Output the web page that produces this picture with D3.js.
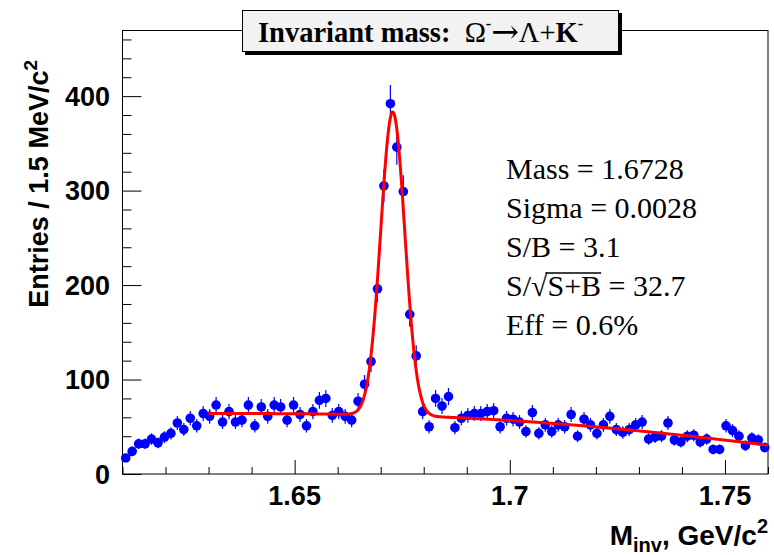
<!DOCTYPE html>
<html><head><meta charset="utf-8">
<script src="https://cdn.jsdelivr.net/npm/d3@7"></script>
<style>body{margin:0;background:#fff}svg{display:block}</style>
</head><body>
<svg id="chart" width="774" height="555"></svg>
<script>
// ---- data ----
const binStart = 1.61;
const binWidth = 0.0015;
const counts = [
  17, 24, 32, 32, 37, 33, 39, 43, 54, 47,
  59, 51, 64, 61, 73, 55, 66, 55, 57, 73,
  51, 71, 61, 73, 71, 57, 73, 63, 51, 66,
  78, 80, 62, 66, 61, 57, 77, 95, 119, 196,
  305, 392, 346, 299, 169, 125, 66, 50, 80, 72,
  82, 49, 59, 62, 64, 64, 66, 67, 50, 59,
  58, 55, 45, 65, 43, 52, 45, 52, 50, 63,
  40, 58, 52, 43, 52, 61, 47, 44, 47, 52,
  55, 37, 39, 40, 54, 36, 34, 40, 41, 34,
  37, 26, 26, 51, 46, 40, 30, 38, 36, 28
];
const xDomain = [1.61, 1.76];
const yDomain = [0, 470];
const xMajorTicks = [1.65, 1.70, 1.75];
const xMajorLabels = ["1.65", "1.7", "1.75"];
const xMinorTicks = [1.61,1.62,1.63,1.64,1.66,1.67,1.68,1.69,1.71,1.72,1.73,1.74,1.76];
const yMajorTicks = [0, 100, 200, 300, 400];
const yMajorLabels = ["0", "100", "200", "300", "400"];
const yMinorTicks = [20,40,60,80,120,140,160,180,220,240,260,280,320,340,360,380,420,440,460];
// fit: gaussian (amplitude, mean, sigma) + polynomial background in t=(x-1.63)/0.01
const fitRange = [1.63, 1.76];
const gausPar = [321, 1.6728, 0.0028];
const bkgPar = [64, 0, 0, -0.02868, 0.001033];
const statLabels = ["Mass = 1.6728", "Sigma = 0.0028", "S/B = 3.1", "S/\u221AS+B = 32.7", "Eff = 0.6%"];

// ---- layout ----
const L = 122.5, R = 768, T = 30, B = 474;
const svg = d3.select("#chart");
const x = d3.scaleLinear().domain(xDomain).range([L, R]);
const y = d3.scaleLinear().domain(yDomain).range([B, T]);

const sans = "'Liberation Sans', Arial, Helvetica, sans-serif";
const serif = "'Liberation Serif', 'Times New Roman', serif";

// frame
svg.append("rect").attr("x", L).attr("y", T + 0.5).attr("width", R - L).attr("height", B - T - 0.5)
  .attr("fill", "none").attr("stroke", "#000").attr("stroke-width", 1);

// x axis
const xAxisMajor = d3.axisBottom(x).tickValues(xMajorTicks).tickSize(-14).tickFormat("");
const xAxisMinor = d3.axisBottom(x).tickValues(xMinorTicks).tickSize(-7).tickFormat("");
[xAxisMinor, xAxisMajor].forEach(ax => {
  const g = svg.append("g").attr("transform", `translate(0,${B})`).call(ax);
  g.select(".domain").remove();
  g.selectAll("line").attr("stroke", "#000");
});
svg.append("g").selectAll("text").data(xMajorTicks).join("text")
  .attr("x", d => x(d)).attr("y", 505).attr("text-anchor", "middle")
  .attr("font-family", sans).attr("font-weight", "bold").attr("font-size", 27)
  .text((d, i) => xMajorLabels[i]);

// y axis
const yAxisMajor = d3.axisLeft(y).tickValues(yMajorTicks).tickSize(-19).tickFormat("");
const yAxisMinor = d3.axisLeft(y).tickValues(yMinorTicks).tickSize(-9).tickFormat("");
[yAxisMinor, yAxisMajor].forEach(ax => {
  const g = svg.append("g").attr("transform", `translate(${L},0)`).call(ax);
  g.select(".domain").remove();
  g.selectAll("line").attr("stroke", "#000");
});
svg.append("g").selectAll("text").data(yMajorTicks).join("text")
  .attr("x", 110).attr("y", d => y(d)).attr("dy", "0.36em").attr("text-anchor", "end")
  .attr("font-family", sans).attr("font-weight", "bold").attr("font-size", 27)
  .text((d, i) => yMajorLabels[i]);

// axis titles
const xt = svg.append("text").attr("x", R).attr("y", 545).attr("text-anchor", "end")
  .attr("font-family", sans).attr("font-weight", "bold").attr("font-size", 28);
xt.append("tspan").text("M");
xt.append("tspan").attr("font-size", 20).attr("dy", 7).text("inv");
xt.append("tspan").attr("dy", -7).text(", GeV/c");
xt.append("tspan").attr("font-size", 20).attr("dy", -12).text("2");

const yt = svg.append("text").attr("transform", "translate(48,60) rotate(-90)").attr("text-anchor", "end")
  .attr("font-family", sans).attr("font-weight", "bold").attr("font-size", 27);
yt.append("tspan").text("Entries / 1.5 MeV/c");
yt.append("tspan").attr("font-size", 19).attr("dy", -11).text("2");

// data points
const pts = counts.map((c, i) => ({ lo: binStart + i * binWidth, c }));
const gp = svg.append("g");
gp.selectAll("line.ey").data(pts).join("line").attr("class", "ey")
  .attr("x1", d => x(d.lo + binWidth / 2)).attr("x2", d => x(d.lo + binWidth / 2))
  .attr("y1", d => y(d.c + Math.sqrt(d.c))).attr("y2", d => y(Math.max(0, d.c - Math.sqrt(d.c))))
  .attr("stroke", "#0000ff").attr("stroke-width", 1.2);
gp.selectAll("line.ex").data(pts).join("line").attr("class", "ex")
  .attr("x1", d => x(d.lo) - 1).attr("x2", d => x(d.lo + binWidth) + 1)
  .attr("y1", d => y(d.c)).attr("y2", d => y(d.c))
  .attr("stroke", "#0000ff").attr("stroke-width", 1.2);
gp.selectAll("circle").data(pts).join("circle")
  .attr("cx", d => x(d.lo + binWidth / 2)).attr("cy", d => y(d.c)).attr("r", 4.8)
  .attr("fill", "#0000ff");

// fit curve
function fitFn(v) {
  const t = (v - 1.63) / 0.01;
  let b = 0;
  bkgPar.forEach((p, k) => { b += p * Math.pow(t, k); });
  const g = gausPar[0] * Math.exp(-0.5 * Math.pow((v - gausPar[1]) / gausPar[2], 2));
  return g + b;
}
const fitPts = d3.range(fitRange[0], fitRange[1] + 1e-9, 0.0001).map(v => [v, fitFn(v)]);
svg.append("path").datum(fitPts)
  .attr("d", d3.line().x(d => x(d[0])).y(d => y(d[1])))
  .attr("fill", "none").attr("stroke", "#ff0000").attr("stroke-width", 3);

// title box
svg.append("rect").attr("x", 245).attr("y", 13).attr("width", 377).attr("height", 42).attr("fill", "#000");
svg.append("rect").attr("x", 242.5).attr("y", 10.5).attr("width", 376).attr("height", 41)
  .attr("fill", "#f2f2f2").attr("stroke", "#000").attr("stroke-width", 1);
const tt = svg.append("text").attr("x", 258).attr("y", 42).style("white-space", "pre")
  .attr("font-family", serif).attr("font-size", 28.5).attr("font-weight", "bold");
tt.append("tspan").text("Invariant mass:  ");
tt.append("tspan").attr("font-weight", "normal").text("\u03A9");
tt.append("tspan").attr("font-size", 16).attr("dy", -13).text("-");
tt.append("tspan").attr("dy", 14).attr("font-weight", "normal")
  .attr("font-family", "'DejaVu Serif', serif").attr("font-size", 33).text("\u2192");
tt.append("tspan").attr("dy", -1).attr("font-weight", "normal").text("\u039B+");
tt.append("tspan").text("K");
tt.append("tspan").attr("font-size", 16).attr("dy", -13).text("-");

// stats text
const st = svg.append("g").attr("font-family", serif).attr("font-size", 30).attr("fill", "#000");
statLabels.forEach((s, i) => {
  const yy = 179 + i * 39;
  if (s.indexOf("\u221A") >= 0) {
    const parts = s.split("\u221A");
    const rest = parts[1];
    const under = rest.split(" = ")[0];
    const t = st.append("text").attr("x", 506).attr("y", yy);
    t.append("tspan").text(parts[0]);
    t.append("tspan").text("\u221A");
    t.append("tspan").text(rest);
    const n = t.node();
    const startIdx = parts[0].length + 1;
    const sx = n.getStartPositionOfChar(startIdx).x;
    const ex = n.getEndPositionOfChar(startIdx + under.length - 1).x;
    st.append("line").attr("x1", sx - 2).attr("x2", ex).attr("y1", yy - 23).attr("y2", yy - 23)
      .attr("stroke", "#000").attr("stroke-width", 1.3);
  } else {
    st.append("text").attr("x", 506).attr("y", yy).text(s);
  }
});
</script>
</body></html>
